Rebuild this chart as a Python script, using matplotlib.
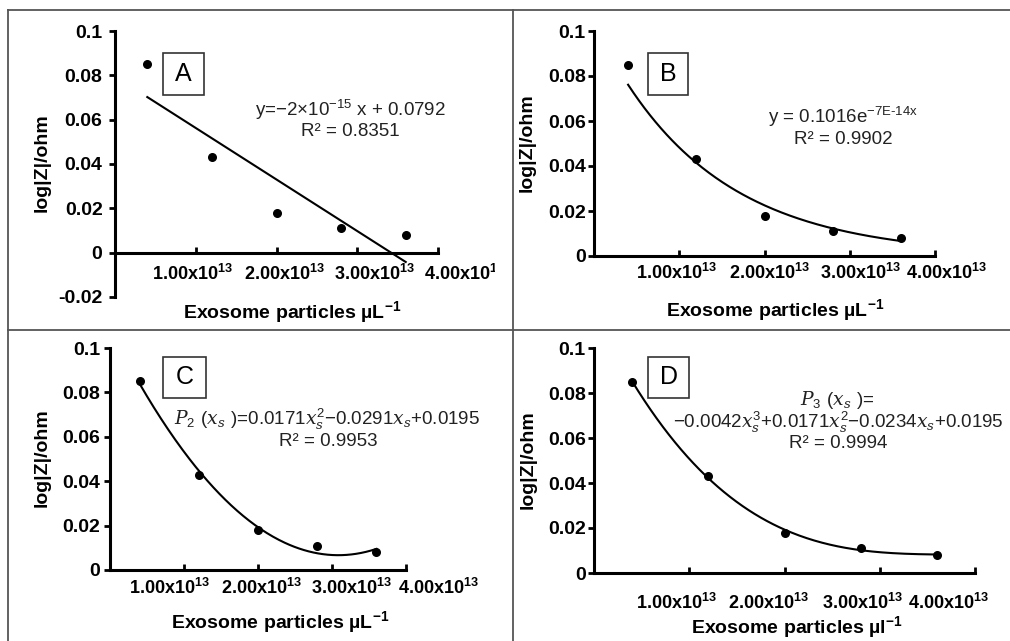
import numpy as np
import matplotlib
matplotlib.use('Agg')
import matplotlib.pyplot as plt
from matplotlib.patches import Rectangle
from matplotlib.lines import Line2D
from matplotlib.transforms import ScaledTranslation, Bbox, TransformedBbox

plt.rcParams['font.family'] = ['Liberation Sans', 'DejaVu Sans']
plt.rcParams['mathtext.fontset'] = 'custom'
plt.rcParams['mathtext.rm'] = 'Liberation Sans'
plt.rcParams['mathtext.it'] = 'DejaVu Serif:italic'
plt.rcParams['mathtext.bf'] = 'Liberation Sans:bold'
plt.rcParams['mathtext.sf'] = 'Liberation Sans'

# ---------------- data ----------------
particles = [0.4e13, 1.2e13, 2.0e13, 2.8e13, 3.6e13]
log_z = [0.085, 0.043, 0.018, 0.011, 0.008]

x_ticks = [1e13, 2e13, 3e13, 4e13]
x_tick_labels = [r'1.00x10$^{\mathbf{13}}$', r'2.00x10$^{\mathbf{13}}$',
                 r'3.00x10$^{\mathbf{13}}$', r'4.00x10$^{\mathbf{13}}$']
y_ticks_a = [-0.02, 0, 0.02, 0.04, 0.06, 0.08, 0.1]
y_tick_labels_a = ['-0.02', '0', '0.02', '0.04', '0.06', '0.08', '0.1']
y_ticks = [0, 0.02, 0.04, 0.06, 0.08, 0.1]
y_tick_labels = ['0', '0.02', '0.04', '0.06', '0.08', '0.1']

panel_letters = ['A', 'B', 'C', 'D']
fit_kinds = ['linear', 'exp', 'poly2', 'poly3']
equations = [
    ['y=\u22122\u00d710$^{-15}$ x + 0.0792', 'R\u00b2 = 0.8351'],
    [r'y = 0.1016e$^{\mathrm{-7E\text{-}14x}}$', 'R\u00b2 = 0.9902'],
    [r'$P_2\ (x_s\ )$=0.0171$x_s^2$' + '\u2212' + r'0.0291$x_s$+0.0195', 'R\u00b2 = 0.9953'],
    [r'$P_3\ (x_s\ )$=', '\u22120.0042' + r'$x_s^3$+0.0171$x_s^2$' + '\u2212' + r'0.0234$x_s$+0.0195',
     'R\u00b2 = 0.9994'],
]
x_axis_labels = ['Exosome particles \u00b5L$^{\\mathbf{-1}}$',
                 'Exosome particles \u00b5L$^{\\mathbf{-1}}$',
                 'Exosome particles \u00b5L$^{\\mathbf{-1}}$',
                 'Exosome particles \u00b5l$^{\\mathbf{-1}}$']
y_axis_label = 'log|Z|/ohm'

# ---------------- layout (pixels) ----------------
W, H = 1010, 641
fig = plt.figure(figsize=(W / 100, H / 100), dpi=100)


def fx(px):
    return px / W


def fy(py):
    return 1 - py / H


layout = [
    dict(rect=(115, 31, 438, 297), ylim=(-0.02, 0.1), ypad=5, xpad=8,
         xoff=[-3, 8, 17, 26], box=(163, 53, 204, 95),
         eq=[(350, 110), (350, 132)], xlab=(292, 312), ylab=(42, 163)),
    dict(rect=(594, 31, 935, 256), ylim=(0, 0.1), ypad=2, xpad=5,
         xoff=[-3, 5, 11, 11], box=(648, 53, 688, 95),
         eq=[(843, 117), (843, 139)], xlab=(775, 310), ylab=(527, 143)),
    dict(rect=(110, 348, 406, 570), ylim=(0, 0.1), ypad=3, xpad=6,
         xoff=[-15, 3, 19, 32], box=(163, 357, 206, 398),
         eq=[(327, 419), (328, 442)], xlab=(280, 622), ylab=(42, 458)),
    dict(rect=(594, 348, 975, 573), ylim=(0, 0.1), ypad=2, xpad=14,
         xoff=[-13, -16, -17, -27], box=(648, 357, 689, 398),
         eq=[(837, 400), (838, 422), (838, 444)], xlab=(797, 627), ylab=(528, 460)),
]

FS_XTICK = 13
FS_YTICK = 14
FS_LAB = 14
FS_EQ = 13.5
xs = np.array(particles)
ys = np.array(log_z)
xfit = np.linspace(xs.min(), xs.max(), 200)

for i, L in enumerate(layout):
    x0, y0, x1, y1 = L['rect']
    ax = fig.add_axes([fx(x0), fy(y1), fx(x1) - fx(x0), fy(y0) - fy(y1)])
    ax.patch.set_alpha(0)
    ax.set_xlim(0, 4e13)
    ax.set_ylim(*L['ylim'])
    for s in ['top', 'right']:
        ax.spines[s].set_visible(False)
    for s in ['left', 'bottom']:
        ax.spines[s].set_linewidth(2.2)
    ax.spines['bottom'].set_position(('data', 0))

    ax.scatter(xs, ys, s=30, color='black', zorder=3)

    kind = fit_kinds[i]
    if kind == 'linear':
        c = np.polyfit(xs, ys, 1)
        yfit = np.polyval(c, xfit)
    elif kind == 'exp':
        c = np.polyfit(xs, np.log(ys), 1)
        yfit = np.exp(np.polyval(c, xfit))
    elif kind == 'poly2':
        c = np.polyfit(xs / 1e13, ys, 2)
        yfit = np.polyval(c, xfit / 1e13)
    else:
        c = np.polyfit(xs / 1e13, ys, 3)
        yfit = np.polyval(c, xfit / 1e13)
    ax.plot(xfit, yfit, color='black', lw=1.5, clip_on=False)

    ax.set_xticks(x_ticks)
    ax.set_xticklabels(x_tick_labels, fontsize=FS_XTICK, fontweight='bold')
    if i == 0:
        ax.set_yticks(y_ticks_a)
        ax.set_yticklabels(y_tick_labels_a, fontsize=FS_YTICK, fontweight='bold')
    else:
        ax.set_yticks(y_ticks)
        ax.set_yticklabels(y_tick_labels, fontsize=FS_YTICK, fontweight='bold')
    ax.tick_params(axis='x', direction='in', length=4, width=2, pad=L['xpad'])
    ax.tick_params(axis='y', direction='out', length=4, width=2, pad=L['ypad'])

    for lab, dx in zip(ax.get_xticklabels(), L['xoff']):
        lab.set_transform(lab.get_transform() + ScaledTranslation(dx / 100, 0, fig.dpi_scale_trans))
        if i == 0:
            lab.set_clip_box(TransformedBbox(Bbox([[0, 0], [495 / W, 1]]), fig.transFigure))
            lab.set_clip_on(True)

    # letter box
    bx0, by0, bx1, by1 = L['box']
    fig.add_artist(Rectangle((fx(bx0), fy(by1)), fx(bx1) - fx(bx0), fy(by0) - fy(by1),
                             transform=fig.transFigure, fill=False, ec='#333333', lw=1.2))
    fig.text(fx((bx0 + bx1) / 2), fy((by0 + by1) / 2), panel_letters[i], fontsize=18,
             ha='center', va='center')

    for (ex, ey), txt in zip(L['eq'], equations[i]):
        fig.text(fx(ex), fy(ey), txt, fontsize=FS_EQ, ha='center', va='center', color='#222222')

    fig.text(fx(L['xlab'][0]), fy(L['xlab'][1]), x_axis_labels[i], fontsize=FS_LAB,
             fontweight='bold', ha='center', va='center')
    fig.text(fx(L['ylab'][0]), fy(L['ylab'][1]), y_axis_label, fontsize=FS_LAB,
             fontweight='bold', ha='center', va='center', rotation=90)

# frame lines
border = '#555555'
for (xa, ya, xb, yb) in [(8, 10, 1010, 10), (8, 10, 8, 641), (513, 10, 513, 641), (8, 330, 1010, 330)]:
    fig.add_artist(Line2D([fx(xa), fx(xb)], [fy(ya), fy(yb)], transform=fig.transFigure,
                          color=border, lw=1.3))

fig.savefig('out.png', dpi=100)
